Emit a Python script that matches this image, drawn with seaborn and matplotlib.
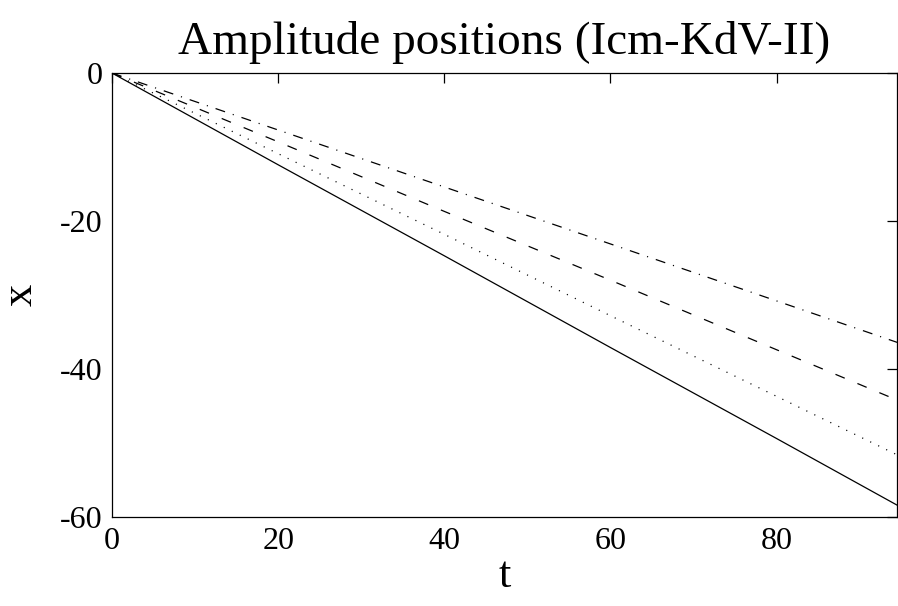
import numpy as np
import pandas as pd
import matplotlib
matplotlib.use("Agg")
import matplotlib.pyplot as plt
import seaborn as sns

# values
t = [0, 20, 40, 60, 80, 94.5]
x_solid = [0, -12.4, -24.7, -37.1, -49.4, -58.4]
x_dotted = [0, -10.9, -21.8, -32.8, -43.7, -51.6]
x_dashed = [0, -9.3, -18.7, -28.0, -37.4, -44.2]
x_dashdot = [0, -7.7, -15.4, -23.1, -30.8, -36.4]

sns.set_style("white")
plt.rcParams["font.family"] = ["Liberation Serif", "DejaVu Serif"]
plt.rcParams["axes.unicode_minus"] = False
plt.rcParams["text.color"] = "black"
plt.rcParams["axes.labelcolor"] = "black"

fig, ax = plt.subplots(figsize=(8.98, 6.06), dpi=100)
fig.subplots_adjust(left=0.1247, right=0.999, top=0.8795, bottom=0.1469)

series = [(x_solid, "-"),
          (x_dotted, (0, (0.9, 6.2))),
          (x_dashed, (0, (8, 11))),
          (x_dashdot, (0, (8, 6.5, 0.9, 6.5)))]
for vals, ls in series:
    sns.lineplot(x=t, y=vals, ax=ax, color="black", linewidth=0.9, linestyle=ls)

ax.set_xlim(0, 94.5)
ax.set_ylim(-60, 0)
ax.set_xticks([0, 20, 40, 60, 80])
ax.set_yticks([-60, -40, -20, 0])
ax.tick_params(direction="in", top=True, right=True, length=7, width=0.9,
               labelsize=23, colors="black", pad=7)
for s in ax.spines.values():
    s.set_color("black")
    s.set_linewidth(0.9)

ax.set_title("Amplitude positions (Icm-KdV-II)", fontsize=34, pad=14, color="black")
ax.set_xlabel("t", fontsize=32, labelpad=0)
ax.set_ylabel("x", fontsize=32, labelpad=14)

plt.savefig("out.png", dpi=100)
